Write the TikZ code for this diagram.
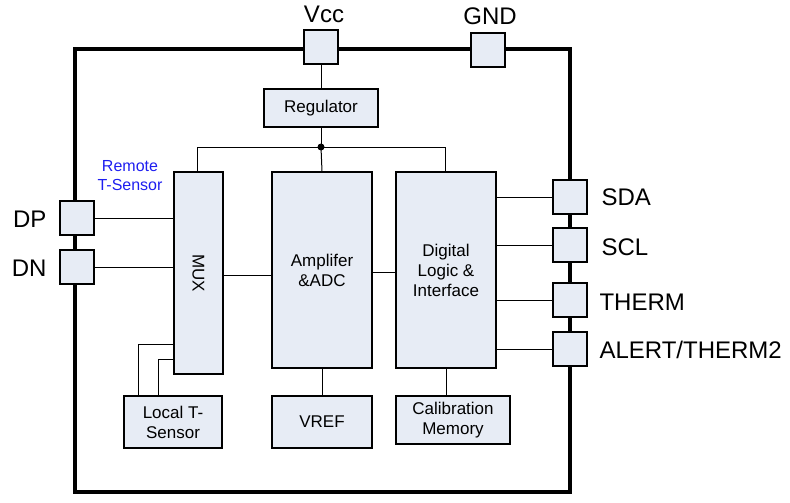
\documentclass[tikz,border=0pt]{standalone}
\usepackage{fontspec}
\setmainfont{Liberation Sans}
\definecolor{bf}{RGB}{231,236,245}
\begin{document}
\begin{tikzpicture}[x=1pt,y=-1pt,
 blk/.style={draw,fill=bf,line width=1.2pt,inner sep=0pt},
 pin/.style={draw,fill=bf,line width=1.2pt,minimum size=34pt,inner sep=0pt},
 lab/.style={font=\fontsize{24}{26}\selectfont},
 txt/.style={font=\fontsize{17}{20}\selectfont,align=center},
 w/.style={line width=1pt}]
\useasboundingbox (0,0) rectangle (790,503);
\draw[line width=3.5pt] (75,49) -- (570,49) -- (570,492) -- (75,492) -- cycle;
\node[pin] (vcc) at (321,47) {};
\node[pin] (gnd) at (488,50) {};
\node[pin] (dp) at (77,218) {};
\node[pin] (dn) at (77,267) {};
\node[pin] (sda) at (570,197) {};
\node[pin] (scl) at (570,245) {};
\node[pin] (therm) at (570,300) {};
\node[pin] (alert) at (570,349) {};
\node[lab] at (324,14) {Vcc};
\node[lab] at (490,16) {GND};
\node[lab,anchor=east] at (50,219) {DP};
\node[lab,anchor=east] at (50,268) {DN};
\node[lab,anchor=west] at (598,197) {SDA};
\node[lab,anchor=west] at (598,247) {SCL};
\node[lab,anchor=west] at (596,302) {THERM};
\node[lab,anchor=west] at (596,350) {ALERT/THERM2};
\node[blk,minimum width=114pt,minimum height=38pt,txt] (reg) at (321,108) {Regulator};
\node[blk,minimum width=49pt,minimum height=202pt] (mux) at (198.5,273) {};
\node[txt,rotate=-90] at (mux) {MUX};
\node[blk,minimum width=100pt,minimum height=196pt,txt] (amp) at (322,270) {Amplifer\\\&ADC};
\node[blk,minimum width=100pt,minimum height=196pt,txt] (dig) at (446,270) {Digital\\Logic \&\\Interface};
\node[blk,minimum width=98pt,minimum height=52pt,txt] (loc) at (173,422) {Local T-\\Sensor};
\node[blk,minimum width=100pt,minimum height=52pt,txt] (vref) at (322,422) {VREF};
\node[blk,minimum width=114pt,minimum height=48pt,txt] (cal) at (453,420) {Calibration\\Memory};
\node[txt,text={rgb,255:red,30;green,30;blue,240},font=\fontsize{16}{19}\selectfont] at (130,176) {Remote\\T-Sensor};
\coordinate (j) at (321,147);
\draw[w] (vcc.south) -- (reg.north);
\draw[w] (reg.south) -- (j);
\fill (j) circle (3.5pt);
\draw[w] (j) -- (amp.north);
\draw[w] (j) -| (197,172);
\draw[w] (j) -| (445,172);
\draw[w] (dp.east) -- (dp.east -| mux.west);
\draw[w] (dn.east) -- (dn.east -| mux.west);
\draw[w] (mux.east |- 0,275) -- (amp.west |- 0,275);
\draw[w] (amp.east |- 0,272) -- (dig.west |- 0,272);
\draw[w] (dig.east |- sda) -- (sda.west);
\draw[w] (dig.east |- scl) -- (scl.west);
\draw[w] (dig.east |- therm) -- (therm.west);
\draw[w] (dig.east |- alert) -- (alert.west);
\draw[w] (mux.west |- 0,344) -| (138,396);
\draw[w] (mux.west |- 0,359) -| (158,396);
\draw[w] (amp.south) -- (vref.north);
\draw[w] (dig.south) -- (dig.south |- cal.north);
\end{tikzpicture}
\end{document}
